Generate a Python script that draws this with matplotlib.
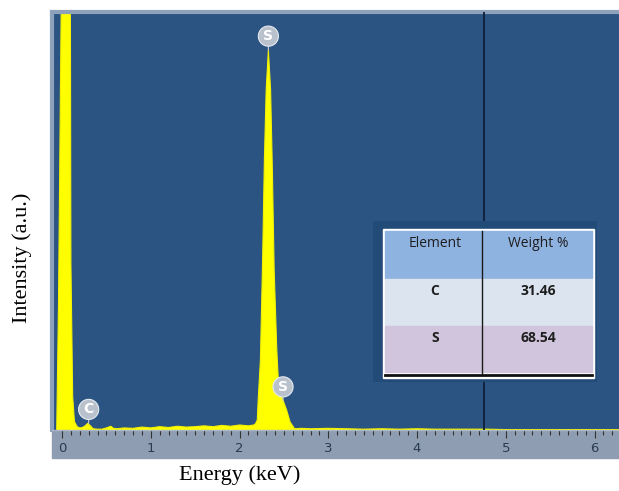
import matplotlib.pyplot as plt
import numpy as np
from matplotlib.patches import Rectangle

# EDS spectrum (energy in keV, intensity in arbitrary units)
energy = [-0.06, -0.04, -0.01, 0.00, 0.05, 0.09, 0.10, 0.12, 0.14, 0.17, 0.20,
          0.23, 0.26, 0.29, 0.32, 0.35, 0.40, 0.45, 0.50, 0.55, 0.58, 0.62,
          0.70, 0.80, 0.90, 1.00, 1.10, 1.20, 1.30, 1.40, 1.50, 1.60, 1.70,
          1.80, 1.90, 2.00, 2.10, 2.16, 2.18, 2.20, 2.21, 2.235, 2.26, 2.28,
          2.30, 2.325, 2.35, 2.37, 2.39, 2.42, 2.44, 2.48, 2.53, 2.57, 2.62,
          2.70, 2.80, 3.00, 3.20, 3.40, 3.60, 3.80, 4.00, 4.20, 4.40, 4.60,
          4.80, 5.00, 5.50, 6.00, 6.30]
intensity = [0.0, 30, 100, 150, 150, 150, 40, 8, 2.0, 0.8, 0.5,
             0.6, 1.0, 1.6, 1.0, 0.3, 0.2, 0.2, 0.5, 0.9, 0.4, 0.3,
             0.5, 0.4, 0.7, 0.5, 0.8, 0.6, 0.9, 0.7, 0.8, 1.0, 0.8,
             1.1, 0.9, 1.2, 1.0, 1.2, 1.5, 2.4, 7.2, 16.7, 40.7, 64.6,
             81.3, 90.9, 81.3, 62.2, 38.3, 19.1, 10.8, 7.7, 4.8, 1.9, 0.3,
             0.4, 0.3, 0.4, 0.3, 0.2, 0.3, 0.2, 0.3, 0.2, 0.2, 0.2,
             0.2, 0.1, 0.1, 0.1, 0.1]

# peak markers
peak_names = ['S', 'S', 'C']
peak_energy = [2.325, 2.49, 0.30]
peak_top = [90.9, 7.0, 1.6]

# composition table
elements = ['C', 'S']
weights = ['31.46', '68.54']

marker_line = 4.75

blue_bg = '#2B5483'
strip = '#8E9DB1'

fig = plt.figure(figsize=(6.19, 4.91), dpi=100)
W, H = 619, 491

def fx(px):
    return px / W

def fy(py):
    return 1 - py / H

# gray tick-label strip
fig.patches.append(Rectangle((fx(52), fy(458)), fx(567), 28 / H,
                             transform=fig.transFigure, color=strip, zorder=-5))

ax = fig.add_axes([fx(52), fy(430), fx(567), (430 - 12) / H])
ax.set_zorder(2)
ax.set_facecolor(blue_bg)
ax.fill_between(energy, intensity, 0, color='#FFFF00', lw=0, zorder=2)
ax.plot(energy, intensity, color='#F2F000', lw=0.8, zorder=2)
ax.axvline(marker_line, color='#0E2038', lw=1.3, zorder=3)

ax.set_xlim(-0.113, 6.2755)
ax.set_ylim(0, 100)
ax.set_yticks([])
ax.set_xticks(range(0, 7))
ax.set_xticks(np.arange(0, 6.3, 0.1), minor=True)
ax.tick_params(axis='x', which='major', length=6, width=0.8, color='#333333',
               labelsize=9.5, labelcolor='#2A3A52', pad=2.5, direction='out')
ax.tick_params(axis='x', which='minor', length=3.5, width=0.8, color='#333333',
               direction='out')
for side in ['left', 'top']:
    ax.spines[side].set_color('#8FA2BB')
    ax.spines[side].set_linewidth(3)
ax.spines['right'].set_visible(False)
ax.spines['bottom'].set_color('#A8B6C8')
ax.spines['bottom'].set_linewidth(1)

# peak labels
for name, e, top in zip(peak_names, peak_energy, peak_top):
    ax.annotate(name, xy=(e, top), xytext=(0, 10), textcoords='offset points',
                ha='center', va='center', fontsize=10, fontweight='bold',
                color='white',
                bbox=dict(boxstyle='circle,pad=0.22', fc='#B9C1CD', ec='#E6EAF0', lw=0.8),
                arrowprops=dict(arrowstyle='-', color='#C8CFD8', lw=0.8,
                                shrinkA=0, shrinkB=0),
                zorder=5)

# table inset
tab = fig.add_axes([fx(373), fy(382), fx(597 - 373), (382 - 221) / H])
tab.set_zorder(3)
tab.set_xlim(373, 597)
tab.set_ylim(382, 221)
tab.axis('off')
tab.add_patch(Rectangle((373, 221), 224, 161, color='#234B78', zorder=0))
tab.add_patch(Rectangle((383, 229), 211, 149, color='white', zorder=1))
row_colors = ['#8FB3E0', '#DCE4EF', '#D0C5DC']
row_edges = [231, 279, 326, 373]
for i, c in enumerate(row_colors):
    tab.add_patch(Rectangle((385, row_edges[i]), 207, row_edges[i + 1] - row_edges[i] - 1,
                            color=c, zorder=2))
tab.plot([482, 482], [231, 375], color='#1A1A1A', lw=1, zorder=3)
tab.plot([385, 592], [374.5, 374.5], color='#111111', lw=2, zorder=3)

cells = [['Element', 'Weight %']] + [[e, w] for e, w in zip(elements, weights)]
col_x = [435, 538]
for i, row in enumerate(cells):
    for j, txt in enumerate(row):
        tab.text(col_x[j], row_edges[i] + 12, txt, ha='center', va='center',
                 fontsize=10, color='#1E1E1E', family='Open Sans',
                 fontweight='normal' if i == 0 else 'bold', zorder=4)

# axis titles
fig.text(fx(240), fy(475), 'Energy (keV)', ha='center', va='center',
         fontsize=16, family='Liberation Serif')
fig.text(fx(22), fy(258), 'Intensity (a.u.)', ha='center', va='center',
         rotation=90, fontsize=16, family='Liberation Serif')

fig.savefig('out.png', dpi=100)
